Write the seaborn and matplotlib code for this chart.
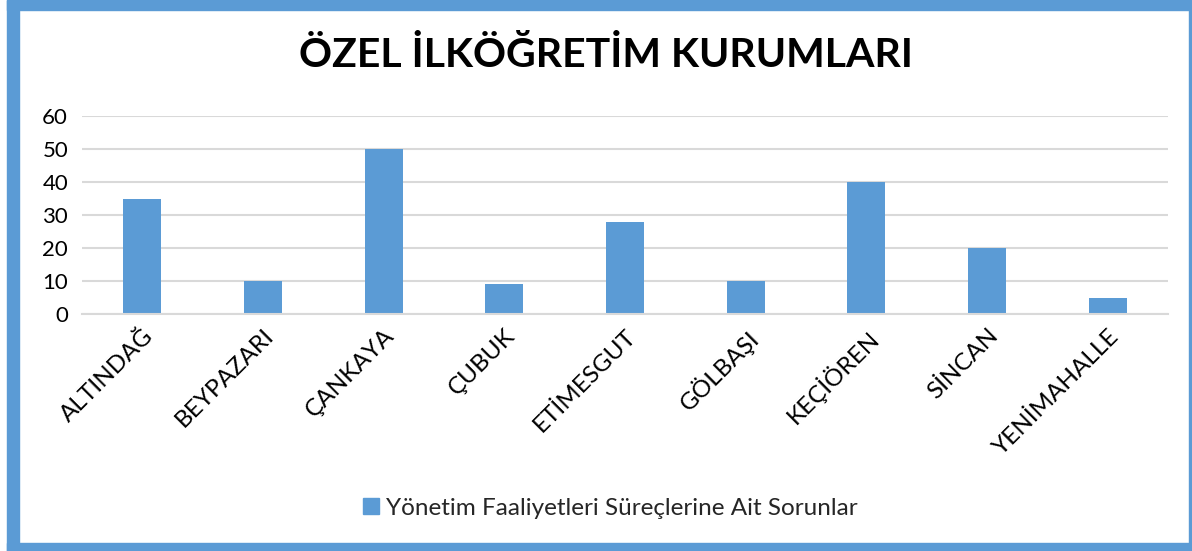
import matplotlib
matplotlib.use("Agg")
import matplotlib.pyplot as plt
import seaborn as sns
import pandas as pd
from matplotlib.patches import Rectangle

# -----------------------------
# Data
# -----------------------------
ilceler = ["ALTINDAĞ", "BEYPAZARI", "ÇANKAYA", "ÇUBUK", "ETİMESGUT",
           "GÖLBAŞI", "KEÇİÖREN", "SİNCAN", "YENİMAHALLE"]
sorunlar = [35, 10, 50, 9, 28, 10, 40, 20, 5]
seri_adi = "Yönetim Faaliyetleri Süreçlerine Ait Sorunlar"
baslik = "ÖZEL İLKÖĞRETİM KURUMLARI"

df = pd.DataFrame({"ilce": ilceler, "deger": sorunlar, "seri": seri_adi})

bar_color = "#5b9bd5"
grid_color = "#d9d9d9"

sns.set_theme(style="white")
plt.rcParams['font.family'] = ['Lato', 'DejaVu Sans']

fig = plt.figure(figsize=(11.92, 5.51), dpi=100)
ax = fig.add_axes([0.0688, 0.430, 0.9112, 0.3595])

sns.barplot(data=df, x="ilce", y="deger", hue="seri", palette=[bar_color],
            width=0.315, saturation=1, linewidth=0, ax=ax, legend=False)

ax.set_ylim(0, 60)
ax.set_yticks(range(0, 61, 10))
ax.set_xlim(-0.5, len(ilceler) - 0.5)
ax.yaxis.grid(True, color=grid_color, linewidth=1.5)
ax.set_axisbelow(True)
for s in ["top", "right", "left"]:
    ax.spines[s].set_visible(False)
ax.spines["bottom"].set_color(grid_color)
ax.spines["bottom"].set_linewidth(1.5)
ax.tick_params(axis="y", length=0, labelsize=16, colors="black", pad=10)
ax.tick_params(axis="x", length=0, labelsize=17.5, colors="black", pad=8)
ax.set_xlabel("")
ax.set_ylabel("")
plt.setp(ax.get_xticklabels(), rotation=45, ha="right", rotation_mode="anchor")

# title
fig.text(0.508, 0.90, baslik, ha="center", va="center",
         fontsize=29.5, fontweight="bold", color="black")

# legend
handle = Rectangle((0, 0), 1, 1, color=bar_color)
fig.legend([handle], [seri_adi], loc="center", bbox_to_anchor=(0.512, 0.078),
           frameon=False, fontsize=17.5, handlelength=0.65, handleheight=0.65,
           handletextpad=0.3)

# blue frame around chart
frame = dict(transform=fig.transFigure, color=bar_color, zorder=10)
W, H = 1192, 551
fig.patches.append(Rectangle((7 / W, 0), 12 / W, 1, **frame))
fig.patches.append(Rectangle((7 / W, 1 - 10 / H), 1, 10 / H, **frame))
fig.patches.append(Rectangle((7 / W, 0), 1, 8 / H, **frame))
fig.patches.append(Rectangle((1189 / W, 0), 3 / W, 1, **frame))

fig.savefig("out.png", dpi=100)
